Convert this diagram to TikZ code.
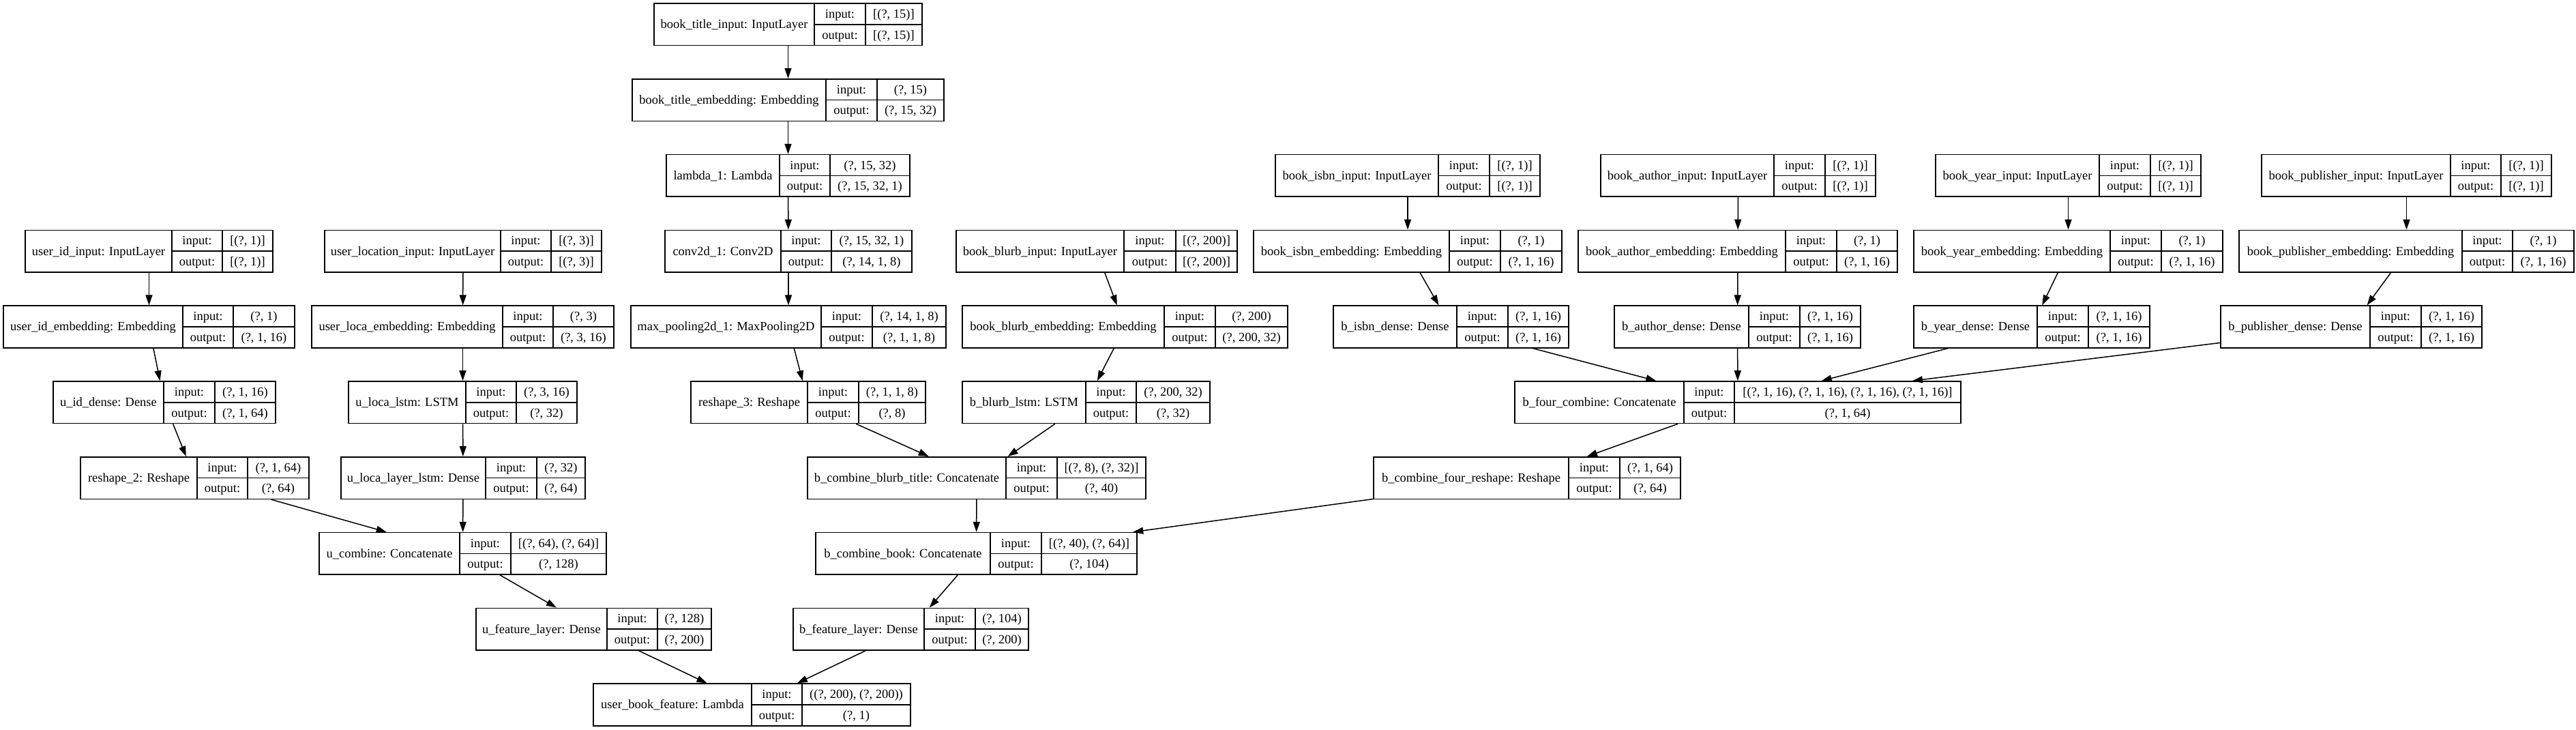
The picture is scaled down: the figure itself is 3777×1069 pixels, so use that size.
\documentclass[tikz,border=0pt]{standalone}
\usepackage{fontspec}
\setmainfont{Liberation Serif}
\usetikzlibrary{arrows.meta}
\tikzset{
  lbox/.style={draw, line width=1.6pt, inner sep=0pt, minimum height=61.5pt},
  cellline/.style={line width=1.5pt},
  txt/.style={inner sep=0pt, font=\fontsize{18.5}{20}\selectfont, anchor=base},
  conn/.style={line width=1.5pt, -{Triangle[length=15pt,width=10pt]}},
}
\newcommand{\kl}[9]{%
  \node[lbox, minimum width={#3-#2}] (#1) at ({(#2+#3)/2},{#6+30.75}) {};
  \draw[cellline] (#4,#6) -- (#4,{#6+61.5}) (#5,#6) -- (#5,{#6+61.5}) (#4,{#6+30.75}) -- (#3,{#6+30.75});
  \node[txt] (#1-n) at ({(#2+#4)/2},{#6+36.75}) {#7};
  \node[txt] (#1-i) at ({(#4+#5)/2},{#6+21.4}) {input:};
  \node[txt] (#1-o) at ({(#4+#5)/2},{#6+52.1}) {output:};
  \node[txt] (#1-iv) at ({(#5+#3)/2},{#6+21.4}) {#8};
  \node[txt] (#1-ov) at ({(#5+#3)/2},{#6+52.1}) {#9};
}
\begin{document}
\begin{tikzpicture}[x=1pt,y=-1pt]
\fill[white] (0,0) rectangle (3777,1069);
\useasboundingbox (0,0) rectangle (3777,1069);
\kl{bti}{959}{1352}{1194}{1269}{5}{book\_title\_input: InputLayer}{[(?, 15)]}{[(?, 15)]}
\kl{bte}{927}{1384}{1211}{1286}{115.8}{book\_title\_embedding: Embedding}{(?, 15)}{(?, 15, 32)}
\kl{lam}{977}{1334}{1143}{1217}{226.6}{lambda\_1: Lambda}{(?, 15, 32)}{(?, 15, 32, 1)}
\kl{conv}{975}{1337}{1145}{1219}{337.4}{conv2d\_1: Conv2D}{(?, 15, 32, 1)}{(?, 14, 1, 8)}
\kl{mp}{925}{1387}{1204}{1279}{448.2}{max\_pooling2d\_1: MaxPooling2D}{(?, 14, 1, 8)}{(?, 1, 1, 8)}
\kl{rs3}{1013}{1357}{1184}{1259}{559}{reshape\_3: Reshape}{(?, 1, 1, 8)}{(?, 8)}
\kl{bbi}{1402}{1814}{1648}{1724}{337.4}{book\_blurb\_input: InputLayer}{[(?, 200)]}{[(?, 200)]}
\kl{bbe}{1411}{1888}{1707}{1782}{448.2}{book\_blurb\_embedding: Embedding}{(?, 200)}{(?, 200, 32)}
\kl{bbl}{1411}{1774}{1592}{1666}{559}{b\_blurb\_lstm: LSTM}{(?, 200, 32)}{(?, 32)}
\kl{bcbt}{1184}{1680}{1475}{1550}{669.8}{b\_combine\_blurb\_title: Concatenate}{[(?, 8), (?, 32)]}{(?, 40)}
\kl{bcb}{1196}{1667}{1452}{1527}{780.6}{b\_combine\_book: Concatenate}{[(?, 40), (?, 64)]}{(?, 104)}
\kl{bfl}{1163}{1508}{1355}{1430}{891.4}{b\_feature\_layer: Dense}{(?, 104)}{(?, 200)}
\kl{ubf}{870}{1335}{1102}{1176}{1002.2}{user\_book\_feature: Lambda}{((?, 200), (?, 200))}{(?, 1)}
\kl{ufl}{698}{1043}{890}{964}{891.4}{u\_feature\_layer: Dense}{(?, 128)}{(?, 200)}
\kl{uc}{468}{889}{674}{749}{780.6}{u\_combine: Concatenate}{[(?, 64), (?, 64)]}{(?, 128)}
\kl{rs2}{118}{453}{289}{363}{669.8}{reshape\_2: Reshape}{(?, 1, 64)}{(?, 64)}
\kl{ulll}{500}{858}{712}{787}{669.8}{u\_loca\_layer\_lstm: Dense}{(?, 32)}{(?, 64)}
\kl{uid}{78}{404}{240}{315}{559}{u\_id\_dense: Dense}{(?, 1, 16)}{(?, 1, 64)}
\kl{ull}{511}{846}{683}{757}{559}{u\_loca\_lstm: LSTM}{(?, 3, 16)}{(?, 32)}
\kl{uie}{5}{432}{268}{342}{448.2}{user\_id\_embedding: Embedding}{(?, 1)}{(?, 1, 16)}
\kl{ule}{457}{900}{737}{811}{448.2}{user\_loca\_embedding: Embedding}{(?, 3)}{(?, 3, 16)}
\kl{uii}{37}{400}{252}{326}{337.4}{user\_id\_input: InputLayer}{[(?, 1)]}{[(?, 1)]}
\kl{uli}{476}{882}{734}{808}{337.4}{user\_location\_input: InputLayer}{[(?, 3)]}{[(?, 3)]}
\kl{bii}{1870}{2258}{2109}{2184}{226.6}{book\_isbn\_input: InputLayer}{[(?, 1)]}{[(?, 1)]}
\kl{bai}{2347}{2750}{2601}{2676}{226.6}{book\_author\_input: InputLayer}{[(?, 1)]}{[(?, 1)]}
\kl{byi}{2838}{3227}{3078}{3153}{226.6}{book\_year\_input: InputLayer}{[(?, 1)]}{[(?, 1)]}
\kl{bpi}{3316}{3741}{3593}{3667}{226.6}{book\_publisher\_input: InputLayer}{[(?, 1)]}{[(?, 1)]}
\kl{bie}{1838}{2290}{2125}{2200}{337.4}{book\_isbn\_embedding: Embedding}{(?, 1)}{(?, 1, 16)}
\kl{bae}{2314}{2782}{2618}{2693}{337.4}{book\_author\_embedding: Embedding}{(?, 1)}{(?, 1, 16)}
\kl{bye}{2806}{3259}{3094}{3169}{337.4}{book\_year\_embedding: Embedding}{(?, 1)}{(?, 1, 16)}
\kl{bpe}{3283}{3774}{3610}{3684}{337.4}{book\_publisher\_embedding: Embedding}{(?, 1)}{(?, 1, 16)}
\kl{bid}{1955}{2300}{2136}{2211}{448.2}{b\_isbn\_dense: Dense}{(?, 1, 16)}{(?, 1, 16)}
\kl{bad}{2367}{2728}{2564}{2639}{448.2}{b\_author\_dense: Dense}{(?, 1, 16)}{(?, 1, 16)}
\kl{byd}{2806}{3152}{2987}{3062}{448.2}{b\_year\_dense: Dense}{(?, 1, 16)}{(?, 1, 16)}
\kl{bpd}{3256}{3639}{3475}{3550}{448.2}{b\_publisher\_dense: Dense}{(?, 1, 16)}{(?, 1, 16)}
\kl{bfc}{2221}{2875}{2469}{2543}{559}{b\_four\_combine: Concatenate}{[(?, 1, 16), (?, 1, 16), (?, 1, 16), (?, 1, 16)]}{(?, 1, 64)}
\kl{bcfr}{2014}{2464}{2300}{2375}{669.8}{b\_combine\_four\_reshape: Reshape}{(?, 1, 64)}{(?, 64)}
% connectors
\draw[conn] (bti) -- (bte);
\draw[conn] (bte) -- (lam);
\draw[conn] (lam) -- (conv);
\draw[conn] (conv) -- (mp);
\draw[conn] (mp) -- (rs3);
\draw[conn] (rs3) -- (bcbt);
\draw[conn] (bbi) -- (bbe);
\draw[conn] (bbe) -- (bbl);
\draw[conn] (bbl) -- (bcbt);
\draw[conn] (bcbt) -- (bcb);
\draw[conn] (bii) -- (bie);
\draw[conn] (bie) -- (bid);
\draw[conn] (bid) -- (bfc);
\draw[conn] (bai) -- (bae);
\draw[conn] (bae) -- (bad);
\draw[conn] (bad) -- (bfc);
\draw[conn] (byi) -- (bye);
\draw[conn] (bye) -- (byd);
\draw[conn] (byd) -- (bfc);
\draw[conn] (bpi) -- (bpe);
\draw[conn] (bpe) -- (bpd);
\draw[conn] (bpd) -- (bfc);
\draw[conn] (bfc) -- (bcfr);
\draw[conn] (bcfr) -- (bcb);
\draw[conn] (bcb) -- (bfl);
\draw[conn] (bfl) -- (ubf);
\draw[conn] (uii) -- (uie);
\draw[conn] (uie) -- (uid);
\draw[conn] (uid) -- (rs2);
\draw[conn] (rs2) -- (uc);
\draw[conn] (uli) -- (ule);
\draw[conn] (ule) -- (ull);
\draw[conn] (ull) -- (ulll);
\draw[conn] (ulll) -- (uc);
\draw[conn] (uc) -- (ufl);
\draw[conn] (ufl) -- (ubf);
\end{tikzpicture}
\end{document}
